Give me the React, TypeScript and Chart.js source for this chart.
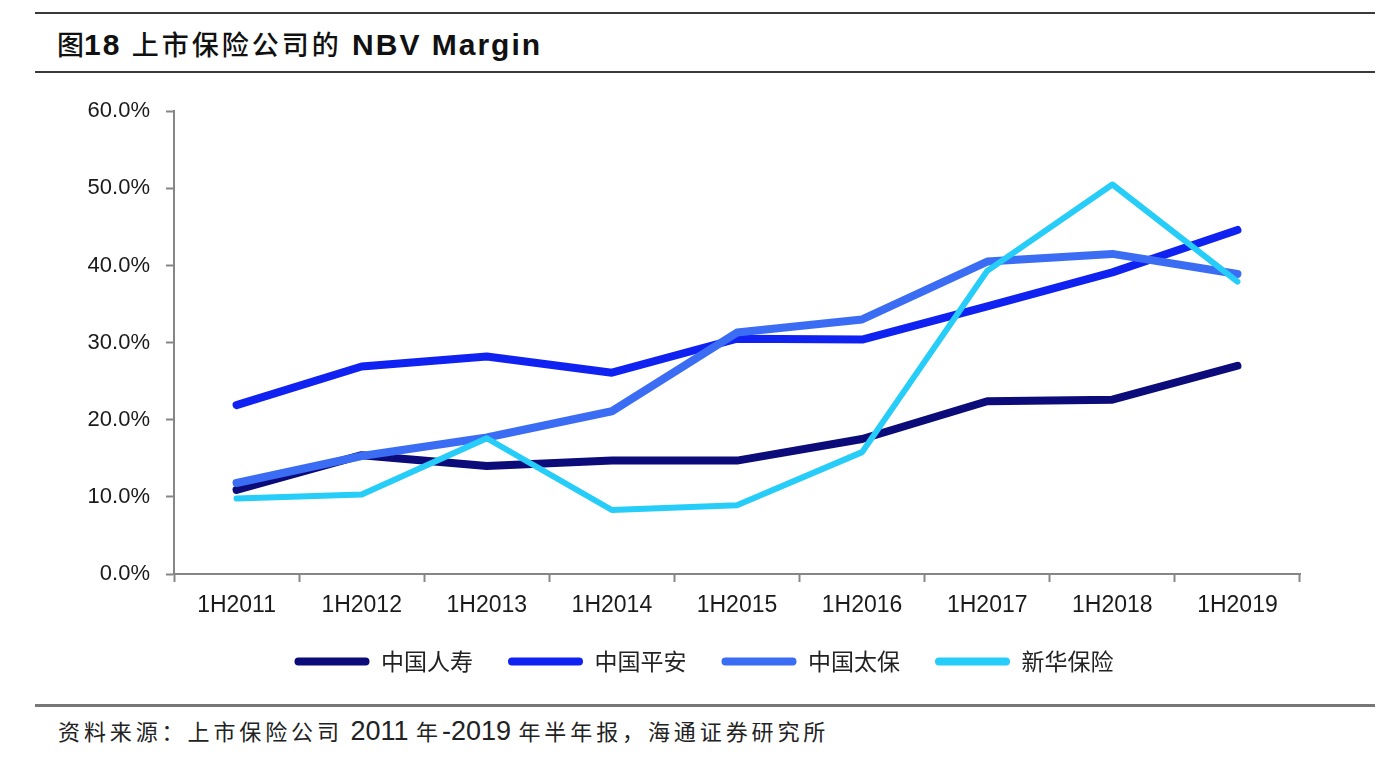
import React, { useEffect, useRef } from "react";
import { Chart, registerables } from "chart.js";

Chart.register(...registerables);

const categories = ["1H2011", "1H2012", "1H2013", "1H2014", "1H2015", "1H2016", "1H2017", "1H2018", "1H2019"];
const seriesNames = ["中国人寿", "中国平安", "中国太保", "新华保险"];
const chinaLife = [10.9, 15.4, 14.0, 14.7, 14.7, 17.5, 22.4, 22.6, 27.0];
const pingAn = [21.9, 26.9, 28.2, 26.1, 30.5, 30.4, 34.7, 39.1, 44.6];
const cpic = [11.8, 15.3, 17.7, 21.1, 31.3, 33.0, 40.5, 41.5, 38.9];
const newChinaLife = [9.8, 10.3, 17.6, 8.3, 8.9, 15.8, 39.3, 50.5, 37.9];
const yTickValues = [0, 10, 20, 30, 40, 50, 60];

const seriesColors = ["#0b0b7a", "#1022f2", "#3b6cf4", "#25cdf8"];
const seriesWidths = [8, 8, 8, 6];

const legendMover = {
  id: "legendMover",
  afterLayout(chart: any) {
    const lg = chart.legend;
    if (!lg) return;
    const h = lg.bottom - lg.top;
    lg.top = 533;
    lg.bottom = 533 + h;
    lg.left = 108;
    lg.right = 1300;
  },
};

export default function App() {
  const ref = useRef<HTMLCanvasElement | null>(null);

  useEffect(() => {
    if (!ref.current) return;
    const values = [chinaLife, pingAn, cpic, newChinaLife];
    const chart = new Chart(ref.current, {
      type: "line",
      data: {
        labels: categories,
        datasets: values.map((v, i) => ({
          label: seriesNames[i],
          data: v,
          borderColor: seriesColors[i],
          backgroundColor: seriesColors[i],
          borderWidth: seriesWidths[i],
          pointRadius: 0,
          tension: 0,
          borderJoinStyle: "round" as const,
          borderCapStyle: "round" as const,
          order: 4 - i,
        })),
      },
      plugins: [legendMover],
      options: {
        responsive: false,
        animation: false,
        layout: { padding: { top: 12, left: 0, right: 86, bottom: 0 } },
        plugins: {
          tooltip: { enabled: false },
          legend: {
            position: "bottom",
            labels: {
              boxWidth: 75,
              boxHeight: 8,
              padding: 35,
              color: "#222",
              font: { family: "'Noto Sans CJK SC'", size: 23 },
              useBorderRadius: true,
              borderRadius: 4,
              sort: (a: any, b: any) => a.datasetIndex - b.datasetIndex,
              generateLabels: (c: any) =>
                c.data.datasets.map((d: any, i: number) => ({
                  text: d.label,
                  fillStyle: d.borderColor,
                  strokeStyle: d.borderColor,
                  lineWidth: 0,
                  hidden: false,
                  datasetIndex: i,
                  borderRadius: 4,
                  fontColor: "#222",
                })),
            },
          },
        },
        scales: {
          x: {
            type: "category",
            offset: true,
            afterFit: (s: any) => {
              s.height = 51;
            },
            grid: {
              offset: true,
              drawOnChartArea: false,
              drawTicks: true,
              tickLength: 8,
              tickWidth: 2,
              tickColor: "#868686",
            },
            border: { color: "#868686", width: 2 },
            ticks: {
              color: "#1a1a1a",
              padding: 10,
              maxRotation: 0,
              autoSkip: false,
              font: { family: "'Liberation Sans', Arial", size: 23 },
            },
          },
          y: {
            min: 0,
            max: 60,
            afterFit: (s: any) => {
              s.width = 174;
            },
            afterBuildTicks: (s: any) => {
              s.ticks = yTickValues.map((v) => ({ value: v }));
            },
            grid: {
              drawOnChartArea: false,
              drawTicks: true,
              tickLength: 8,
              tickWidth: 2,
              tickColor: "#868686",
            },
            border: { color: "#868686", width: 2 },
            ticks: {
              color: "#1a1a1a",
              padding: 16,
              font: { family: "'Liberation Sans', Arial", size: 22 },
              callback: (v: any) => Number(v).toFixed(1) + "%",
            },
          },
        },
      },
    });
    return () => chart.destroy();
  }, []);

  const rule = (top: number, color: string, h: number) => (
    <div style={{ position: "absolute", left: 35, width: 1340, top, height: h, background: color }} />
  );

  const cjk = { fontFamily: "'Noto Sans CJK SC'", fontWeight: 500 };
  const fc = { fontFamily: "'Noto Sans CJK SC'", fontSize: 22, letterSpacing: 3.9 };
  const fl = { fontFamily: "'Liberation Sans', Arial", fontSize: 27 };

  return (
    <div style={{ position: "fixed", left: 0, top: 0, width: 1386, height: 764, background: "#fff", overflow: "hidden" }}>
      {rule(12, "#3a3a3a", 2)}
      <div
        style={{
          position: "absolute",
          left: 57,
          top: 23,
          fontSize: 30,
          lineHeight: "42px",
          color: "#111",
          whiteSpace: "nowrap",
          fontFamily: "'Liberation Sans', 'Noto Sans CJK SC', sans-serif",
          fontWeight: "bold",
        }}
      >
        <span style={{ ...cjk, fontSize: 27 }}>图</span>
        <span style={{ letterSpacing: 2 }}>18 </span>
        <span style={{ ...cjk, fontSize: 27, letterSpacing: 3 }}>上市保险公司的</span>
        <span style={{ letterSpacing: 2 }}> NBV Margin</span>
      </div>
      {rule(71, "#3a3a3a", 2)}
      <canvas
        ref={ref}
        width={1386}
        height={611}
        style={{ position: "absolute", left: 0, top: 82, display: "block" }}
      />
      {rule(704, "#777", 3)}
      <div
        style={{
          position: "absolute",
          left: 58,
          top: 713,
          lineHeight: "34px",
          color: "#222",
          whiteSpace: "nowrap",
        }}
      >
        <span style={fc}>资料来源：上市保险公司</span>
        <span style={fl}> 2011 </span>
        <span style={fc}>年</span>
        <span style={fl}>-2019 </span>
        <span style={fc}>年半年报，海通证券研究所</span>
      </div>
    </div>
  );
}
